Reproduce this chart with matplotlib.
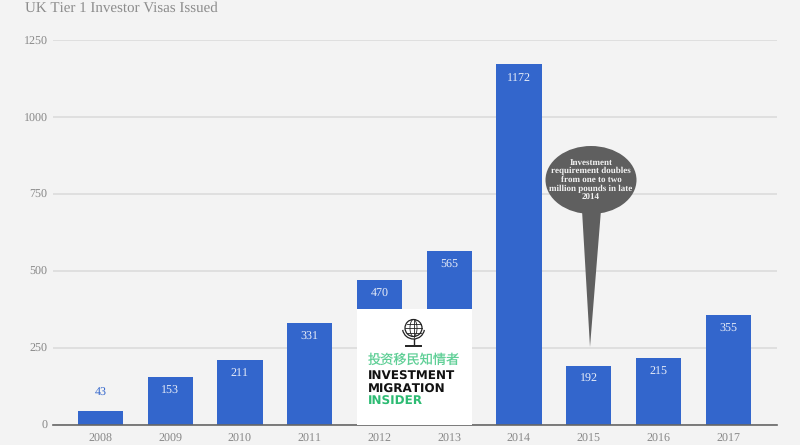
import matplotlib
matplotlib.use("Agg")
import matplotlib.pyplot as plt
import numpy as np
from matplotlib.patches import Ellipse, Polygon, Rectangle, Circle, Arc

years = ["2008", "2009", "2010", "2011", "2012", "2013", "2014", "2015", "2016", "2017"]
visas = [43, 153, 211, 331, 470, 565, 1172, 192, 215, 355]
y_ticks = [0, 250, 500, 750, 1000, 1250]

BLUE = "#3366cc"
BG = "#f3f3f3"
GREY = "#888888"

plt.rcParams["font.family"] = ["Liberation Serif", "DejaVu Serif"]
plt.rcParams["text.hinting"] = "none"
plt.rcParams["text.hinting_factor"] = 1

fig = plt.figure(figsize=(8, 4.45), dpi=100, facecolor=BG)
ax = fig.add_axes([53 / 800, 20.5 / 445, 724 / 800, 384 / 445], facecolor=BG)

x = np.arange(len(years))
ax.bar(x, visas, width=0.65, color=BLUE, zorder=3)

ax.set_xlim(-0.68, 9.7)
ax.set_ylim(0, 1250)
ax.set_xticks(x, years)
ax.set_yticks(y_ticks)
ax.grid(axis="y", color="#dcdcdc", linewidth=1.2, zorder=0)
ax.tick_params(length=0, labelsize=8.8, labelcolor=GREY)
ax.tick_params(axis="x", pad=6.5)
ax.tick_params(axis="y", pad=4)
for name in ["top", "left", "right"]:
    ax.spines[name].set_visible(False)
ax.spines["bottom"].set_color("#666666")
ax.spines["bottom"].set_linewidth(1.2)
ax.spines["bottom"].set_zorder(5)

# value labels, 2008 is too short so it goes above the bar
for i, v in enumerate(visas):
    if v < 100:
        ax.annotate(str(v), (i, v), xytext=(0, 13), textcoords="offset points",
                    ha="center", va="center", fontsize=8.8, color=BLUE)
    else:
        ax.annotate(str(v), (i, v), xytext=(0, -10), textcoords="offset points",
                    ha="center", va="center", fontsize=8.8, color="#e8edf8", zorder=4)

fig.text(25 / 800, 1 - 8 / 445, "UK Tier 1 Investor Visas Issued", fontsize=10.5,
         color="#8c8c8c", ha="left", va="center")

# overlay in pixel coords for callout and logo
ov = fig.add_axes([0, 0, 1, 1], facecolor="none", zorder=10)
ov.set_xlim(0, 800)
ov.set_ylim(445, 0)
ov.axis("off")

# callout
DARK = "#5f5f5f"
ov.add_patch(Ellipse((591, 180), 91, 68, color=DARK, lw=0))
ov.add_patch(Polygon([[582, 210], [601, 210], [590, 347]], closed=True, color=DARK, lw=0))
ov.text(591, 180, "Investment\nrequirement doubles\nfrom one to two\nmillion pounds in late\n2014",
        ha="center", va="center", color="#f2f2f2", fontsize=6.3, fontweight="bold",
        linespacing=1.08)

# logo block
ov.add_patch(Rectangle((357, 309), 115, 115.5, color="white", lw=0))
ink = "#222222"
ov.add_patch(Circle((413.5, 328), 8.5, fill=False, ec=ink, lw=0.9))
ov.add_patch(Arc((413.5, 328), 7, 17, fill=False, ec=ink, lw=0.6))
ov.plot([413.5, 413.5], [319.5, 336.5], color=ink, lw=0.6)
for dy, half in [(-4.5, 7), (0, 8.5), (4.5, 7)]:
    ov.plot([413.5 - half, 413.5 + half], [328 + dy, 328 + dy], color=ink, lw=0.6)
ov.add_patch(Arc((413.5, 328), 22, 22, theta1=10, theta2=170, fill=False, ec=ink, lw=0.9))
ov.plot([413.5, 413.5], [339, 344], color=ink, lw=1.0)
ov.plot([406, 421], [345.5, 345.5], color=ink, lw=1.4)

GREEN = "#2dbb73"
ov.text(413.5, 360, "投资移民知情者", family=["Noto Sans CJK SC", "DejaVu Sans"],
        fontsize=9.5, color="#5fcf96", ha="center", va="center")
logo_font = ["DejaVu Sans"]
ov.text(368, 377, "INVESTMENT", family=logo_font, fontsize=8.8, fontweight="bold",
        color="#111111", ha="left", va="center")
ov.text(368, 389.5, "MIGRATION", family=logo_font, fontsize=8.8, fontweight="bold",
        color="#111111", ha="left", va="center")
ov.text(368, 401.5, "INSIDER", family=logo_font, fontsize=8.8, fontweight="bold",
        color=GREEN, ha="left", va="center")

fig.savefig("out.png", dpi=100, facecolor=BG)
